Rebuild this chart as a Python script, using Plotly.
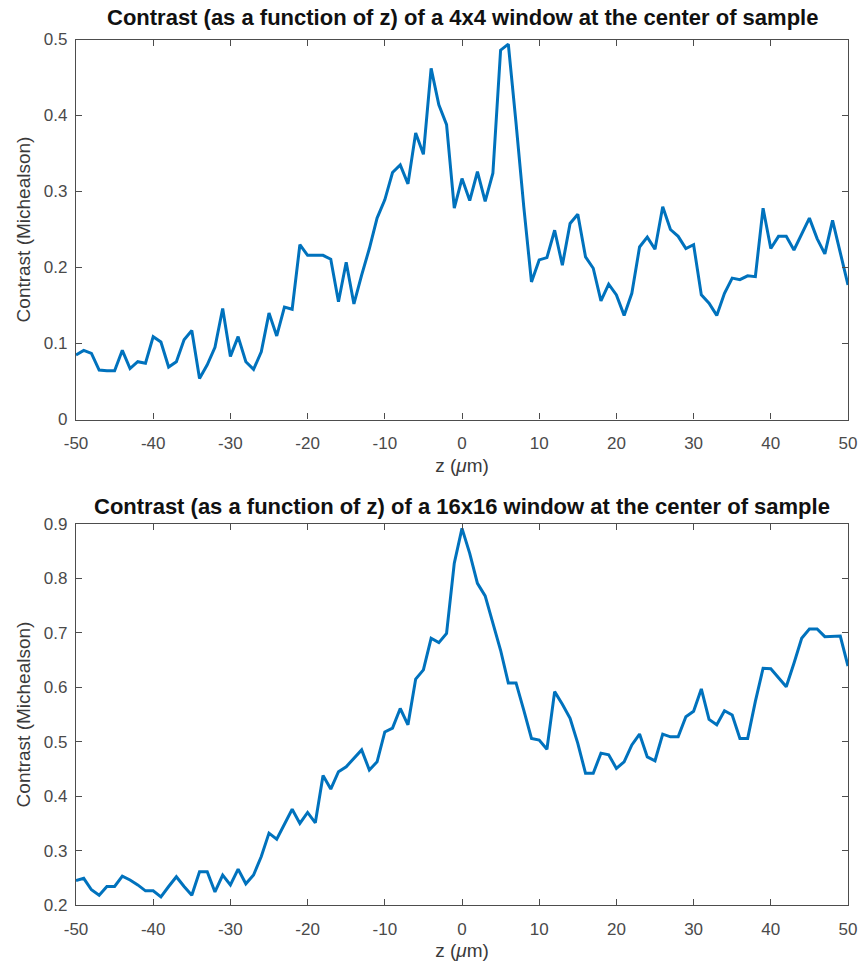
import plotly.graph_objects as go
from plotly.subplots import make_subplots

z = list(range(-50, 51))

contrast_4x4 = [
    0.085, 0.091, 0.087, 0.065, 0.064, 0.064, 0.091, 0.067, 0.076, 0.074,
    0.109, 0.102, 0.069, 0.076, 0.105, 0.117, 0.054, 0.072, 0.095, 0.146,
    0.083, 0.109, 0.076, 0.066, 0.089, 0.140, 0.110, 0.148, 0.145, 0.230,
    0.216, 0.216, 0.216, 0.211, 0.155, 0.207, 0.152, 0.190, 0.225, 0.265,
    0.289, 0.325, 0.335, 0.310, 0.377, 0.349, 0.462, 0.414, 0.388, 0.278,
    0.317, 0.288, 0.326, 0.287, 0.324, 0.486, 0.494, 0.390, 0.280, 0.181,
    0.210, 0.213, 0.249, 0.203, 0.258, 0.270, 0.214, 0.199, 0.156, 0.178,
    0.164, 0.137, 0.166, 0.227, 0.240, 0.224, 0.280, 0.250, 0.241, 0.225,
    0.230, 0.164, 0.153, 0.137, 0.166, 0.186, 0.184, 0.189, 0.188, 0.278,
    0.225, 0.241, 0.241, 0.223, 0.244, 0.265, 0.238, 0.218, 0.262, 0.221,
    0.177,
]

contrast_16x16 = [
    0.245, 0.249, 0.228, 0.218, 0.234, 0.234, 0.253, 0.246, 0.237, 0.226,
    0.226, 0.215, 0.234, 0.252, 0.234, 0.218, 0.261, 0.261, 0.224, 0.255,
    0.237, 0.266, 0.239, 0.255, 0.289, 0.332, 0.321, 0.350, 0.376, 0.350,
    0.370, 0.351, 0.438, 0.413, 0.445, 0.454, 0.470, 0.485, 0.448, 0.463,
    0.518, 0.525, 0.561, 0.531, 0.615, 0.632, 0.690, 0.682, 0.699, 0.828,
    0.892, 0.846, 0.791, 0.768, 0.718, 0.668, 0.608, 0.608, 0.558, 0.506,
    0.503, 0.486, 0.592, 0.569, 0.543, 0.497, 0.442, 0.442, 0.479, 0.476,
    0.451, 0.463, 0.494, 0.514, 0.472, 0.465, 0.514, 0.509, 0.509, 0.546,
    0.556, 0.597, 0.541, 0.531, 0.557, 0.549, 0.506, 0.506, 0.574, 0.635,
    0.634, 0.617, 0.601, 0.644, 0.690, 0.707, 0.707, 0.693, 0.693, 0.694,
    0.639,
]

titles = [
    "Contrast (as a function of z) of a 4x4 window at the center of sample",
    "Contrast (as a function of z) of a 16x16 window at the center of sample",
]
x_ticks = list(range(-50, 51, 10))
x_ticktext = [str(v) for v in x_ticks]
y_ticks_top = [0, 0.1, 0.2, 0.3, 0.4, 0.5]
y_ticktext_top = ["0", "0.1", "0.2", "0.3", "0.4", "0.5"]
y_ticks_bot = [0.2, 0.3, 0.4, 0.5, 0.6, 0.7, 0.8, 0.9]
y_ticktext_bot = ["0.2", "0.3", "0.4", "0.5", "0.6", "0.7", "0.8", "0.9"]

W, H = 863, 967
ML, MR, MT, MB = 76, 15, 39, 62
PH = H - MT - MB
FONT = "Liberation Sans, Arial, Helvetica, sans-serif"

def frac(py):
    return (H - MB - py) / PH

fig = make_subplots(rows=2, cols=1)
line = dict(color="#0072BD", width=3)
fig.add_trace(go.Scatter(x=z, y=contrast_4x4, mode="lines", line=line, showlegend=False), row=1, col=1)
fig.add_trace(go.Scatter(x=z, y=contrast_16x16, mode="lines", line=line, showlegend=False), row=2, col=1)

axis_common = dict(
    showline=True, linecolor="#4d4d4d", linewidth=1.3, mirror="ticks",
    ticks="inside", ticklen=6, tickcolor="#4d4d4d", tickwidth=1.3,
    showgrid=False, zeroline=False, automargin=False,
    tickfont=dict(family=FONT, size=17, color="#4a4a4a"),
)
xtitle = dict(text="z (<i>μ</i>m)", font=dict(family=FONT, size=19, color="#3a3a3a"), standoff=6)
ytitle = dict(text="Contrast (Michealson)", font=dict(family=FONT, size=19, color="#3a3a3a"), standoff=8)

fig.update_xaxes(range=[-50, 50], tickvals=x_ticks, ticktext=x_ticktext, title=xtitle,
                 ticklabelstandoff=8, **axis_common)
fig.update_yaxes(title=ytitle, ticklabelstandoff=4, **axis_common)
fig.update_yaxes(range=[0, 0.5], tickvals=y_ticks_top, ticktext=y_ticktext_top, row=1, col=1)
fig.update_yaxes(range=[0.2, 0.9], tickvals=y_ticks_bot, ticktext=y_ticktext_bot, row=2, col=1)

fig.update_layout(
    width=W, height=H,
    margin=dict(l=ML, r=MR, t=MT, b=MB, autoexpand=False),
    plot_bgcolor="white", paper_bgcolor="white",
    xaxis=dict(domain=[0, 1], anchor="y"),
    yaxis=dict(domain=[frac(419.5), frac(39.5)]),
    xaxis2=dict(domain=[0, 1], anchor="y2"),
    yaxis2=dict(domain=[frac(905), frac(524)]),
)

for t, py in zip(titles, [18, 507]):
    fig.add_annotation(
        text="<b>" + t + "</b>", xref="paper", yref="paper",
        x=0.5, y=frac(py), xanchor="center", yanchor="middle",
        showarrow=False,
        font=dict(family=FONT, size=22, color="#111111"),
    )

fig.write_html(
    "out.html",
    config={"displayModeBar": False},
    post_script="document.body.style.margin='0px';document.body.style.padding='0px';document.body.style.overflow='hidden';",
)
